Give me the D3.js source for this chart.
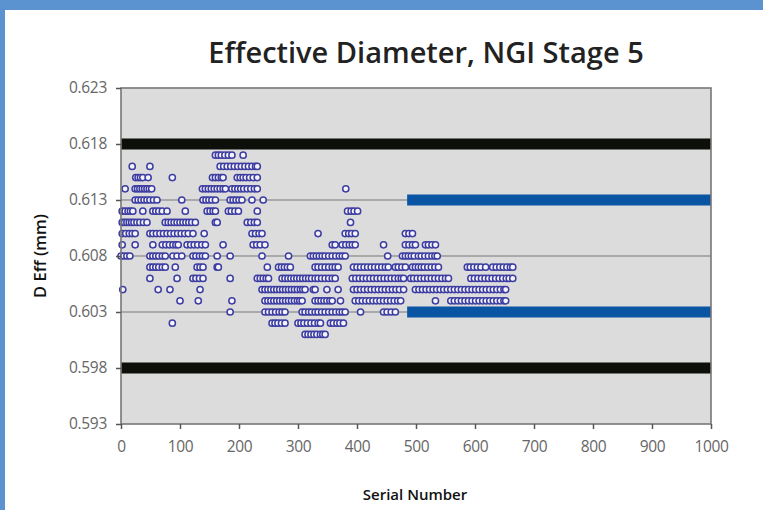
<!DOCTYPE html>
<html>
<head>
<meta charset="utf-8">
<script src="https://cdn.jsdelivr.net/npm/d3@7"></script>
<style>
  body { margin: 0; background: #fff; }
  svg { display: block; }
</style>
</head>
<body>
<div id="chart"></div>
<script>
// tick labels
var yTicks = [0.593, 0.598, 0.603, 0.608, 0.613, 0.618, 0.623]
var xTicks = [0, 100, 200, 300, 400, 500, 600, 700, 800, 900, 1000]

// limit lines
var specLimits = [0.598, 0.618]
var alertLimits = [0.603, 0.613]
var alertStart = [485, 1000]

// serial numbers read per D Eff row (mm)
var row617 = [160, 165, 170, 176, 182, 188, 207]
var row616 = [19, 49, 168, 174, 180, 186, 192, 198, 204, 210, 216, 222, 228, 231]
var row615 = [25, 29, 33, 37, 46, 87, 155, 160, 165, 170, 173, 197, 202, 207, 212, 218, 224, 231]
var row614 = [7, 24, 28, 32, 36, 40, 44, 48, 52, 138, 143, 148, 153, 158, 163, 168, 173, 177, 188, 193, 198, 203, 208, 214, 220, 226, 231, 381]
var row613 = [24, 29, 34, 39, 44, 49, 55, 61, 103, 139, 144, 149, 154, 160, 185, 190, 195, 200, 205, 222, 241]
var row612 = [2, 7, 12, 16, 20, 37, 54, 59, 64, 70, 78, 109, 146, 151, 156, 160, 182, 187, 193, 199, 231, 384, 390, 395, 401]
var row611 = [2, 6, 10, 14, 18, 22, 27, 32, 38, 44, 75, 80, 85, 90, 95, 100, 105, 110, 115, 120, 126, 160, 163, 214, 220, 226, 231, 389]
var row610 = [2, 8, 14, 19, 24, 49, 54, 60, 66, 72, 78, 84, 90, 96, 102, 108, 114, 122, 141, 222, 228, 234, 239, 334, 380, 386, 391, 397, 482, 488, 494]
var row609 = [2, 24, 54, 70, 76, 82, 88, 93, 97, 112, 118, 124, 130, 137, 143, 173, 224, 230, 236, 244, 358, 363, 375, 381, 387, 392, 397, 445, 482, 488, 494, 499, 516, 521, 527, 533]
var row608 = [0, 5, 10, 15, 49, 54, 59, 64, 70, 75, 88, 95, 103, 122, 127, 133, 138, 143, 163, 185, 239, 284, 321, 326, 331, 336, 341, 346, 352, 358, 364, 370, 375, 380, 452, 477, 482, 487, 492, 497, 504, 509, 515, 521, 527, 532, 536]
var row607 = [49, 54, 59, 64, 70, 75, 92, 129, 134, 139, 163, 165, 248, 267, 272, 277, 282, 287, 329, 334, 340, 346, 352, 358, 363, 368, 394, 400, 406, 412, 418, 424, 430, 436, 442, 448, 453, 465, 470, 476, 482, 494, 499, 504, 509, 514, 520, 526, 532, 538, 587, 592, 598, 604, 610, 618, 630, 636, 642, 648, 654, 660, 664]
var row606 = [49, 95, 122, 127, 133, 139, 185, 231, 236, 241, 246, 250, 273, 278, 283, 288, 293, 298, 303, 308, 313, 318, 323, 329, 334, 340, 346, 352, 358, 363, 392, 398, 404, 410, 416, 422, 428, 434, 440, 446, 452, 458, 464, 470, 475, 479, 491, 496, 502, 508, 514, 520, 526, 532, 538, 544, 550, 555, 593, 599, 605, 611, 617, 623, 629, 635, 641, 647, 653, 658, 664]
var row605 = [3, 63, 83, 134, 239, 244, 249, 254, 259, 264, 269, 274, 279, 284, 289, 294, 299, 304, 308, 312, 326, 329, 349, 368, 394, 400, 406, 412, 418, 424, 430, 436, 442, 448, 454, 460, 466, 472, 479, 499, 505, 511, 517, 523, 529, 535, 541, 547, 553, 559, 565, 571, 577, 583, 589, 595, 601, 607, 613, 619, 625, 631, 637, 643, 649, 652]
var row604 = [100, 131, 188, 244, 249, 254, 259, 264, 269, 274, 279, 284, 289, 294, 299, 303, 307, 329, 334, 339, 344, 349, 354, 358, 372, 397, 403, 409, 415, 421, 427, 433, 439, 445, 451, 457, 463, 469, 474, 533, 559, 565, 571, 577, 583, 589, 595, 601, 607, 613, 619, 625, 631, 637, 643, 649, 652]
var row603 = [185, 244, 250, 256, 262, 268, 273, 278, 307, 312, 318, 323, 329, 334, 340, 346, 352, 358, 364, 370, 375, 380, 406, 445, 451, 458, 465]
var row602 = [87, 256, 261, 266, 272, 278, 300, 305, 310, 316, 322, 328, 334, 338, 355, 360, 366, 371, 377]
var row601 = [312, 317, 322, 327, 332, 338, 342, 346]

var rowValues = [0.617, 0.616, 0.615, 0.614, 0.613, 0.612, 0.611, 0.610, 0.609, 0.608, 0.607, 0.606, 0.605, 0.604, 0.603, 0.602, 0.601]
var rowSerials = [row617, row616, row615, row614, row613, row612, row611, row610, row609, row608, row607, row606, row605, row604, row603, row602, row601]

var dataset = []
rowSerials.forEach(function(serials, i) {
  serials.forEach(function(s) { dataset.push({ x: s, y: rowValues[i] }) })
})

var W = 763, H = 510
var margin = { top: 88, right: 52, bottom: 86, left: 121 }
var width = W - margin.left - margin.right
var height = H - margin.top - margin.bottom

var svg = d3.select("#chart").append("svg")
  .attr("width", W)
  .attr("height", H)

// frame
svg.append("rect").attr("x", 0).attr("y", 0).attr("width", W).attr("height", 10).attr("fill", "#5b93d0")
svg.append("rect").attr("x", 0).attr("y", 0).attr("width", 5).attr("height", H).attr("fill", "#5b93d0")

var x = d3.scaleLinear().domain([0, 1000]).range([margin.left, margin.left + width])
var y = d3.scaleLinear().domain([0.593, 0.623]).range([margin.top + height, margin.top])

// plot area
svg.append("rect")
  .attr("x", margin.left).attr("y", margin.top)
  .attr("width", width).attr("height", height)
  .attr("fill", "#dcdcdc")

// gridlines
svg.append("g").selectAll("line")
  .data(yTicks.slice(1, -1))
  .enter().append("line")
  .attr("x1", x(0)).attr("x2", x(1000))
  .attr("y1", function(d) { return y(d) })
  .attr("y2", function(d) { return y(d) })
  .style("stroke", "#999")
  .style("stroke-width", 1.6)

// spec limits (black)
svg.append("g").selectAll("rect")
  .data(specLimits)
  .enter().append("rect")
  .attr("x", x(0)).attr("width", x(1000) - x(0))
  .attr("y", function(d) { return y(d) - 5.5 })
  .attr("height", 11)
  .attr("fill", "#0d0f0a")

// alert limits (blue)
svg.append("g").selectAll("rect")
  .data(alertLimits)
  .enter().append("rect")
  .attr("x", x(alertStart[0])).attr("width", x(alertStart[1]) - x(alertStart[0]))
  .attr("y", function(d) { return y(d) - 5.5 })
  .attr("height", 11)
  .attr("fill", "#0a55a3")

// points
svg.append("g").selectAll("circle")
  .data(dataset)
  .enter().append("circle")
  .attr("cx", function(d) { return x(d.x) })
  .attr("cy", function(d) { return y(d.y) })
  .attr("r", 3.1)
  .attr("fill", "#f4f4fb")
  .attr("stroke", "#3c3ca2")
  .attr("stroke-width", 1.5)

// plot border
svg.append("rect")
  .attr("x", margin.left).attr("y", margin.top)
  .attr("width", width).attr("height", height)
  .attr("fill", "none")
  .attr("stroke", "#777")
  .attr("stroke-width", 1.6)

// axes
var xAxis = svg.append("g")
  .attr("transform", "translate(0," + (margin.top + height) + ")")
  .call(d3.axisBottom(x).tickValues(xTicks).tickFormat(d3.format("d")).tickSize(5).tickPadding(12))
var yAxis = svg.append("g")
  .attr("transform", "translate(" + margin.left + ",0)")
  .call(d3.axisLeft(y).tickValues(yTicks).tickFormat(d3.format(".3f")).tickSize(5).tickPadding(9))

;[xAxis, yAxis].forEach(function(ax) {
  ax.select(".domain").remove()
  ax.selectAll("line").attr("stroke", "#555").attr("stroke-width", 1.5)
  ax.selectAll("text")
    .attr("fill", "#666")
    .style("font-family", "'Open Sans', sans-serif")
    .style("font-size", "15.5px")
    .style("letter-spacing", "-0.3px")
})

// titles
svg.append("text")
  .attr("x", 426).attr("y", 63)
  .attr("text-anchor", "middle")
  .style("font-family", "'Open Sans', sans-serif")
  .style("font-size", "29px")
  .style("font-weight", "600")
  .attr("fill", "#222")
  .text("Effective Diameter, NGI Stage 5")

svg.append("text")
  .attr("x", 415).attr("y", 500)
  .attr("text-anchor", "middle")
  .style("font-family", "'Open Sans', sans-serif")
  .style("font-size", "15px")
  .style("font-weight", "600")
  .attr("fill", "#111")
  .text("Serial Number")

svg.append("text")
  .attr("transform", "translate(46,256) rotate(-90)")
  .attr("text-anchor", "middle")
  .style("font-family", "'Open Sans', sans-serif")
  .style("font-size", "16.5px")
  .style("font-weight", "600")
  .attr("fill", "#111")
  .text("D Eff (mm)")
</script>
</body>
</html>
